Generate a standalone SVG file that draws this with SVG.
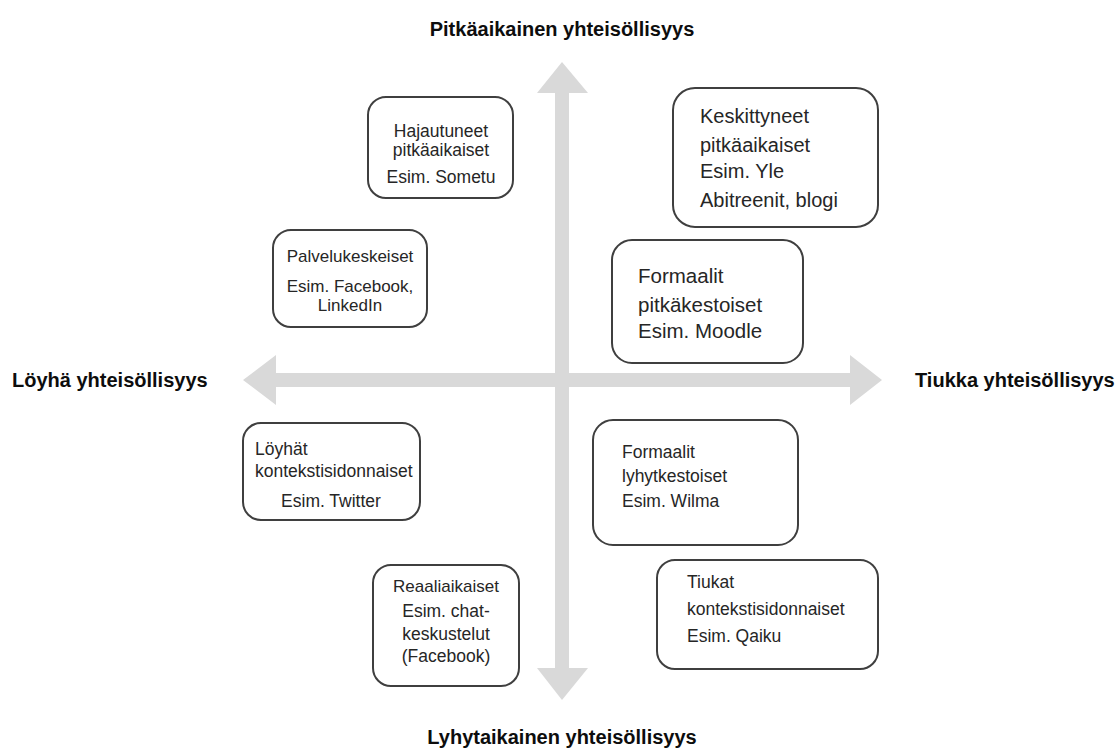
<svg xmlns="http://www.w3.org/2000/svg" width="1120" height="751" viewBox="0 0 1120 751">
<style>
.box{fill:#fff;stroke:#3f3f3f;stroke-width:2}
.t{font-family:"Liberation Sans",Arial,sans-serif;font-size:17.5px;fill:#262626}
.c{text-anchor:middle}
.ax{font-family:"Liberation Sans",Arial,sans-serif;font-size:20px;font-weight:bold;fill:#0d0d0d}
.arr{fill:#d9d9d9}
</style>
<rect width="1120" height="751" fill="#fff"/>
<g id="connectors">
<polygon class="arr" points="562,62 588,93 569,93 569,668 588,668 562,700 537,668 555,668 555,93 537,93"/>
<polygon class="arr" points="243,380 276,355 276,373 850,373 850,355 882,380 850,405 850,387 276,387 276,405"/>
</g>
<g id="label-top"><text class="ax c" x="562" y="36">Pitkäaikainen yhteisöllisyys</text></g>
<g id="label-bottom"><text class="ax c" x="562" y="744">Lyhytaikainen yhteisöllisyys</text></g>
<g id="label-left"><text class="ax" x="12" y="387">Löyhä yhteisöllisyys</text></g>
<g id="label-right"><text class="ax" x="915" y="387">Tiukka yhteisöllisyys</text></g>
<g id="hajautuneet">
<rect class="box" x="368" y="97" width="145" height="101" rx="18"/>
<text class="t c" x="441" y="137">Hajautuneet</text>
<text class="t c" x="441" y="156">pitkäaikaiset</text>
<text class="t c" x="441" y="183">Esim. Sometu</text>
</g>
<g id="keskittyneet">
<rect class="box" x="673" y="88" width="205" height="139" rx="22"/>
<text class="t" style="font-size:20px" x="700" y="123">Keskittyneet</text>
<text class="t" style="font-size:20px" x="700" y="152">pitkäaikaiset</text>
<text class="t" style="font-size:20px" x="700" y="178">Esim. Yle</text>
<text class="t" style="font-size:20px" x="700" y="207">Abitreenit, blogi</text>
</g>
<g id="palvelukeskeiset">
<rect class="box" x="273" y="230" width="154" height="97" rx="18"/>
<text class="t c" style="font-size:17px" x="350" y="262">Palvelukeskeiset</text>
<text class="t c" style="font-size:17px" x="350" y="292">Esim. Facebook,</text>
<text class="t c" style="font-size:17px" x="350" y="311">LinkedIn</text>
</g>
<g id="formaalit-pitka">
<rect class="box" x="612" y="240" width="191" height="123" rx="20"/>
<text class="t" style="font-size:20.5px" x="638" y="283">Formaalit</text>
<text class="t" style="font-size:20.5px" x="638" y="312">pitkäkestoiset</text>
<text class="t" style="font-size:20.5px" x="638" y="338">Esim. Moodle</text>
</g>
<g id="loyhat">
<rect class="box" x="243" y="423" width="177" height="97" rx="18"/>
<text class="t" x="255" y="455">Löyhät</text>
<text class="t" x="255" y="477">kontekstisidonnaiset</text>
<text class="t c" x="331" y="507">Esim. Twitter</text>
</g>
<g id="formaalit-lyhyt">
<rect class="box" x="593" y="420" width="205" height="125" rx="20"/>
<text class="t" x="622" y="458">Formaalit</text>
<text class="t" x="622" y="482">lyhytkestoiset</text>
<text class="t" x="622" y="507">Esim. Wilma</text>
</g>
<g id="reaaliaikaiset">
<rect class="box" x="373" y="565" width="146" height="121" rx="18"/>
<text class="t c" style="font-size:17px" x="446" y="592">Reaaliaikaiset</text>
<text class="t c" x="446" y="617">Esim. chat-</text>
<text class="t c" x="446" y="640">keskustelut</text>
<text class="t c" x="446" y="662">(Facebook)</text>
</g>
<g id="tiukat">
<rect class="box" x="657" y="560" width="221" height="109" rx="18"/>
<text class="t" x="687" y="588">Tiukat</text>
<text class="t" x="687" y="615">kontekstisidonnaiset</text>
<text class="t" x="687" y="642">Esim. Qaiku</text>
</g>
</svg>
